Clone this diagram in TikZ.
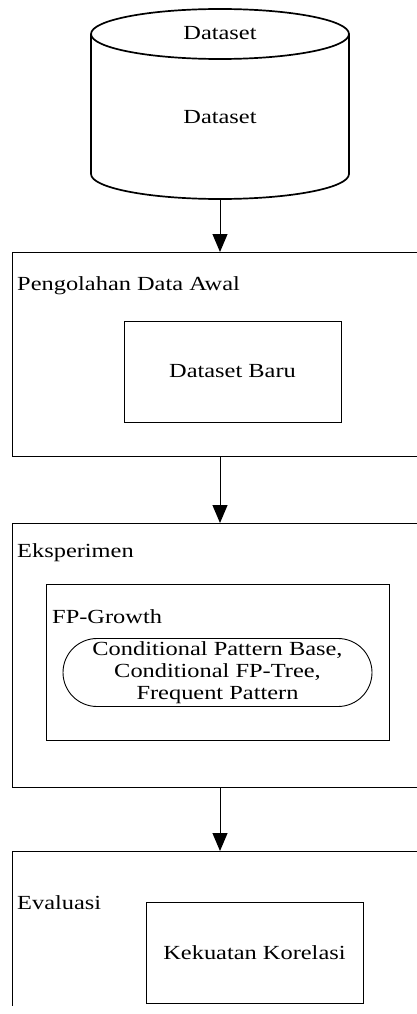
\documentclass[tikz,border=0pt]{standalone}
\usepackage{fontspec}
\setmainfont{Liberation Serif}[FakeStretch=1.22]
\usetikzlibrary{arrows.meta}
\begin{document}
\begin{tikzpicture}[x=1pt,y=-1pt,
  every node/.style={font=\fontsize{20}{22}\selectfont, inner sep=0pt},
  outerbox/.style={draw, line width=0.9pt, minimum width=440pt, anchor=north west},
  innerbox/.style={draw, line width=0.9pt},
  lbl/.style={anchor=west},
  cylline/.style={line width=1.7pt},
  flow/.style={line width=1pt, -{Triangle[width=15pt,length=18pt]}}]
\useasboundingbox (0,0) rectangle (417,1014);
\clip (0,0) rectangle (417,1005.5);
% cylinder
\node[minimum width=258pt, minimum height=190pt] (cyl) at (220,104) {};
\draw[cylline] (220,34) ellipse [x radius=129, y radius=25];
\draw[cylline] (91,34) -- (91,174)
  .. controls (91,187.8) and (148.75,199) .. (220,199)
  .. controls (291.25,199) and (349,187.8) .. (349,174) -- (349,34);
\node (cyltop) at (220,33) {Dataset};
\node (cyltext) at (220,117) {Dataset};
% box 1
\node[outerbox, minimum height=204pt] (box1) at (12,252) {};
\node[lbl] (lbl1) at (17,286) {Pengolahan Data Awal};
\node[innerbox, minimum width=217pt, minimum height=101pt] (in1) at (232.5,371.5) {Dataset Baru};
% box 2
\node[outerbox, minimum height=264pt] (box2) at (12,523) {};
\node[lbl] (lbl2) at (17,553) {Eksperimen};
\node[innerbox, minimum width=343pt, minimum height=156pt] (in2) at (217.5,662) {};
\node[lbl] (fpg) at (52,617) {FP-Growth};
\node[draw, line width=0.9pt, rounded corners=34pt, minimum width=309pt, minimum height=68pt, align=center] (stad) at (217.5,672.5)
  {Conditional Pattern Base,\\Conditional FP-Tree,\\Frequent Pattern};
% box 3
\node[outerbox, minimum height=220pt] (box3) at (12,851) {};
\node[lbl] (lbl3) at (17,903) {Evaluasi};
\node[innerbox, minimum width=217pt, minimum height=101pt] (in3) at (254.5,952.5) {Kekuatan Korelasi};
% arrows
\draw[flow] (cyl.south) -- (cyl.south |- box1.north);
\draw[flow] (box1.south -| cyl.south) -- (box2.north -| cyl.south);
\draw[flow] (box2.south -| cyl.south) -- (box3.north -| cyl.south);
\end{tikzpicture}
\end{document}
